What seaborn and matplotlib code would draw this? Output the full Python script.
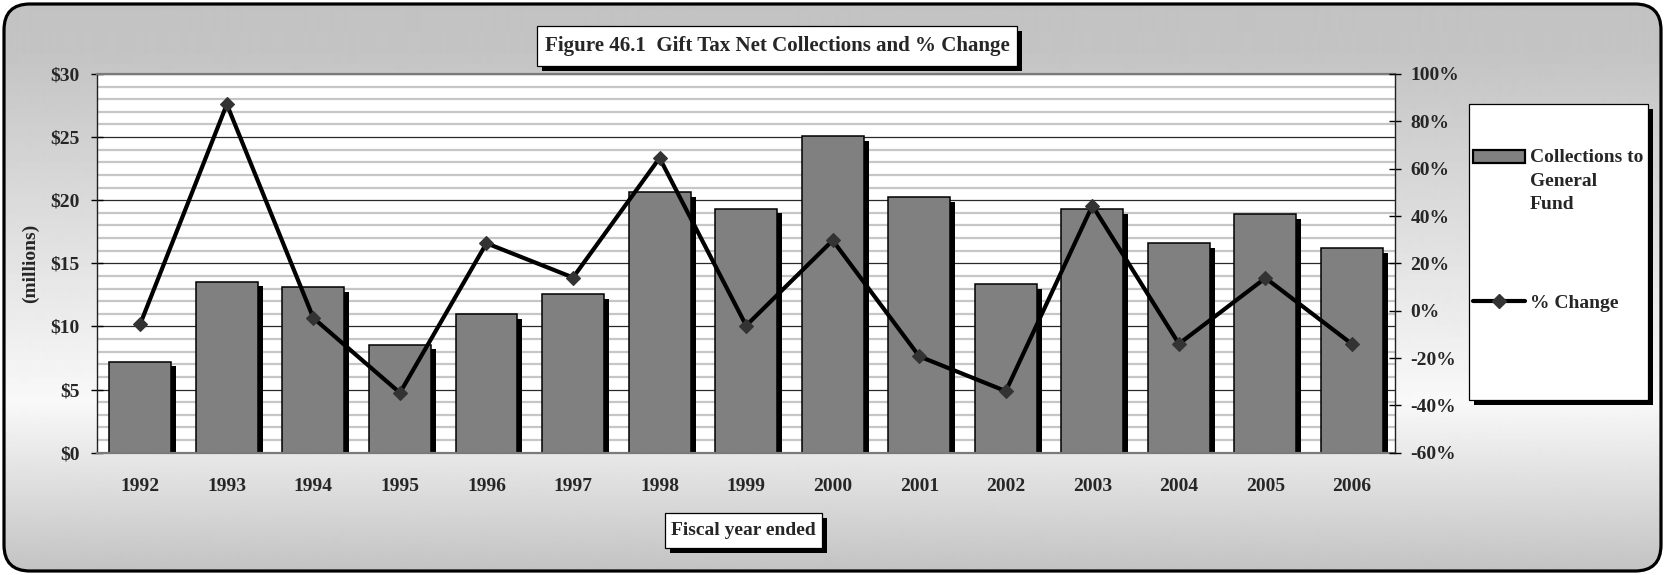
import numpy as np
import matplotlib
matplotlib.use("Agg")
import matplotlib.pyplot as plt
import matplotlib.patches as mpatches
import matplotlib.patheffects as pe
from matplotlib.lines import Line2D
from matplotlib.legend_handler import HandlerPatch
from matplotlib.ticker import MultipleLocator
import seaborn as sns

# ---- data -------------------------------------------------------------
years = ["1992", "1993", "1994", "1995", "1996", "1997", "1998", "1999",
         "2000", "2001", "2002", "2003", "2004", "2005", "2006"]
collections = [7.21, 13.55, 13.12, 8.56, 10.98, 12.54, 20.62, 19.33,
               25.09, 20.25, 13.34, 19.28, 16.58, 18.88, 16.19]   # $ millions
pct_change = [-5.6, 87.2, -3.1, -34.7, 28.5, 14.0, 64.5, -6.3,
              29.7, -19.3, -34.0, 44.4, -14.0, 13.8, -14.1]       # percent

dollar_ticks = [0, 5, 10, 15, 20, 25, 30]
dollar_labels = ["$0", "$5", "$10", "$15", "$20", "$25", "$30"]
pct_ticks = [-60, -40, -20, 0, 20, 40, 60, 80, 100]
pct_labels = ["-60%", "-40%", "-20%", "0%", "20%", "40%", "60%", "80%", "100%"]

title_text = "Figure 46.1  Gift Tax Net Collections and % Change"
bar_label = "Collections to\nGeneral\nFund"
line_label = "% Change"

# ---- style ------------------------------------------------------------
sns.set_theme(style="white")
plt.rcParams["font.family"] = ["Liberation Serif", "DejaVu Serif"]
plt.rcParams["font.weight"] = "bold"
plt.rcParams["font.size"] = 14
plt.rcParams["axes.labelweight"] = "bold"

BAR_GRAY = "#808080"
MARK_GRAY = "#333333"
FS = 14

W, H = 1665, 575
fig = plt.figure(figsize=(W / 100, H / 100), dpi=100)
fig.patch.set_facecolor("white")

# ---- background panel: rounded frame with vertical gray gradient ------
bg = fig.add_axes([0, 0, 1, 1], zorder=-10)
bg.set_xlim(0, W)
bg.set_ylim(H, 0)
bg.axis("off")
frac = np.linspace(0, 1, H)
shade = np.interp(frac, [0.0, 0.10, 0.70, 1.0], [0.76, 0.77, 0.975, 0.76])
grad = np.repeat(shade[:, None], 2, axis=1)
im = bg.imshow(grad, cmap="gray", vmin=0, vmax=1, extent=(0, W, H, 0),
               aspect="auto", interpolation="bilinear")
frame = mpatches.FancyBboxPatch((4, 4), W - 8, H - 8,
                                boxstyle="round,pad=0,rounding_size=26",
                                fc="none", ec="black", lw=2.3, zorder=3)
bg.add_patch(frame)
im.set_clip_path(frame)


def shadow_box(x0, y0, x1, y1, off=4.6):
    bg.add_patch(mpatches.Rectangle((x0 + off, y0 + off), x1 - x0, y1 - y0,
                                    fc="black", ec="none", zorder=4))
    bg.add_patch(mpatches.Rectangle((x0, y0), x1 - x0, y1 - y0,
                                    fc="white", ec="black", lw=0.9, zorder=5))


shadow_box(537, 26, 1017, 66)          # title box
shadow_box(665, 513, 822, 548)         # x-axis label box
shadow_box(1469, 104, 1648, 400, 5)    # legend box

# ---- main axes ----------------------------------------------------------
x_left, x_right, y_top, y_bot = 97, 1395.3, 74, 452.7
ax = fig.add_axes([x_left / W, 1 - y_bot / H, (x_right - x_left) / W,
                   (y_bot - y_top) / H])
ax.set_facecolor("white")

sns.barplot(x=years, y=collections, ax=ax, color=BAR_GRAY, saturation=1,
            width=0.716, edgecolor="black", linewidth=1.1)
for bar in ax.patches:
    bar.set_path_effects([
        pe.SimplePatchShadow(offset=(3.6, -3.3), shadow_rgbFace="black", alpha=1.0),
        pe.Normal(),
    ])

ax.set_ylim(0, 30)
ax.set_yticks(dollar_ticks, dollar_labels)
ax.yaxis.set_minor_locator(MultipleLocator(1))
ax.set_axisbelow(True)
ax.grid(which="minor", axis="y", color="#c6c6c6", lw=1.6)
ax.grid(which="major", axis="y", color="#2a2a2a", lw=0.9)
ax.grid(which="major", axis="x", visible=False)

ax.set_xticks(range(len(years)), years)
ax.set_xticks(np.arange(-0.5, len(years), 1.0), minor=True)
ax.tick_params(axis="x", which="major", length=0, pad=18, labelsize=FS)
ax.tick_params(axis="x", which="minor", direction="inout", length=8.6,
               width=1, color="black")
ax.tick_params(axis="y", which="major", direction="inout", length=8.6,
               width=1, color="black", pad=8, labelsize=FS, left=True)
ax.tick_params(axis="y", which="minor", length=0)

for side, col, lw in [("left", "#202020", 1.0), ("bottom", "#7a7a7a", 1.6),
                      ("top", "#7a7a7a", 1.6)]:
    ax.spines[side].set_visible(True)
    ax.spines[side].set_color(col)
    ax.spines[side].set_linewidth(lw)
ax.spines["right"].set_visible(False)

ax.set_ylabel("(millions)", fontsize=FS, fontweight="bold")
ax.yaxis.set_label_coords((39 - x_left) / (x_right - x_left), 0.5)
ax.set_xlabel("Fiscal year ended", fontsize=FS, fontweight="bold")
ax.xaxis.label.set_va("center")
ax.xaxis.set_label_coords((743.5 - x_left) / (x_right - x_left),
                          (y_bot - 530.5) / (y_bot - y_top))

# ---- percent change line on secondary axis ------------------------------
ax2 = ax.twinx()
sns.lineplot(x=np.arange(len(years)), y=pct_change, ax=ax2, color="black",
             lw=3, marker="D", markersize=6.7, markerfacecolor=MARK_GRAY,
             markeredgecolor=MARK_GRAY, markeredgewidth=0.8,
             legend=False, errorbar=None, sort=False)
ax2.set_ylim(-60, 100)
ax2.set_yticks(pct_ticks, pct_labels)
ax2.tick_params(axis="y", which="major", direction="inout", length=8.6,
                width=1, color="black", pad=6.5, labelsize=FS, right=True)
ax2.set_ylabel("")
for side in ["left", "top", "bottom"]:
    ax2.spines[side].set_visible(False)
ax2.spines["right"].set_visible(True)
ax2.spines["right"].set_color("#202020")
ax2.spines["right"].set_linewidth(1.0)
ax.set_xlim(-0.5, len(years) - 0.5)

# ---- title --------------------------------------------------------------
fig.text(777 / W, 1 - 45.5 / H, title_text, ha="center", va="center",
         fontsize=15.1, fontweight="bold")

# ---- legend -------------------------------------------------------------
LINE_STEP = 17.4  # points between lines of a multi-line legend label


def first_line_patch(legend, orig_handle, xdescent, ydescent, width, height, fontsize):
    return mpatches.Rectangle((-xdescent, -ydescent + LINE_STEP), width, height)


bar_handle = mpatches.Patch(facecolor=BAR_GRAY, edgecolor="black", lw=1.6)
line_handle = Line2D([], [], color="black", lw=3, marker="D", markersize=6.7,
                     markerfacecolor=MARK_GRAY, markeredgecolor=MARK_GRAY)
leg = ax2.legend(handles=[bar_handle, line_handle], labels=[bar_label, line_label],
                 handler_map={bar_handle: HandlerPatch(patch_func=first_line_patch)},
                 loc="upper left", bbox_to_anchor=(1473 / W, 1 - 149.5 / H),
                 bbox_transform=fig.transFigure, frameon=False, borderpad=0,
                 borderaxespad=0, handlelength=2.67, handletextpad=0.26,
                 labelspacing=4.2, numpoints=1,
                 prop={"family": "Liberation Serif", "weight": "bold", "size": FS})
for t in leg.get_texts():
    t.set_linespacing(1.47)

fig.savefig("out.png", dpi=100, facecolor=fig.get_facecolor())
